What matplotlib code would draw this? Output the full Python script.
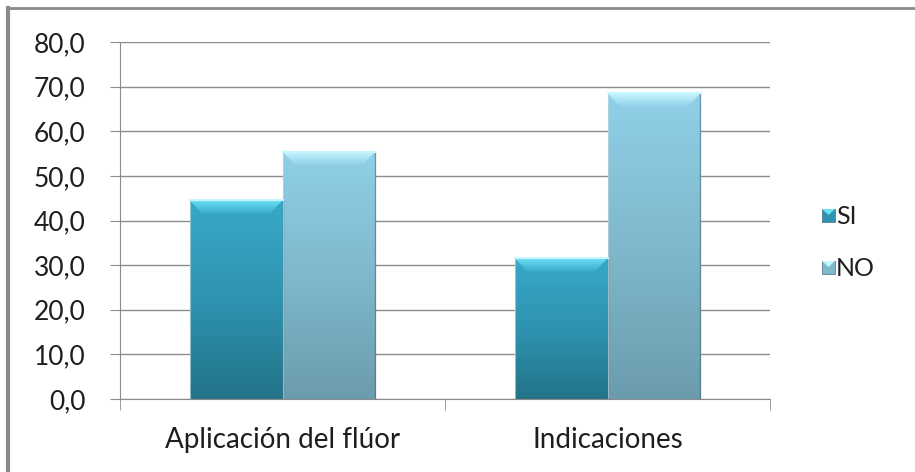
import numpy as np
import matplotlib
matplotlib.use('Agg')
import matplotlib.pyplot as plt
from matplotlib.patches import Polygon, Rectangle
from matplotlib.colors import LinearSegmentedColormap
from matplotlib.ticker import FuncFormatter

# data
categories = ['Aplicación del flúor', 'Indicaciones']
series_names = ['SI', 'NO']
si_values = [44.5, 31.5]
no_values = [55.4, 68.5]
yticks = [0, 10, 20, 30, 40, 50, 60, 70, 80]

plt.rcParams['font.family'] = ['Lato', 'DejaVu Sans']

# colours (top of bar -> bottom of bar)
si_cols = ['#38a9c8', '#2e93b0', '#237488']
no_cols = ['#90d0e8', '#80b8cc', '#6b9cae']
si_bevel = ['#6ee0f8', '#38a9c8']
no_bevel = ['#c8f6ff', '#90d0e8']
txt = '#1e1e1e'

fig = plt.figure(figsize=(9.15, 4.72), dpi=100)
ax = fig.add_axes([120/915, 1-399/472, 650/915, 357/472])

x = np.arange(len(categories))
gap = 1.5
width = 1.0/(len(series_names) + gap)

def grad_patch(ax, patch, x0, x1, y0, y1, cols, z):
    cmap = LinearSegmentedColormap.from_list('g', cols[::-1])
    grad = np.linspace(0, 1, 256).reshape(-1, 1)
    patch.set_facecolor('none')
    patch.set_edgecolor('none')
    ax.add_patch(patch)
    im = ax.imshow(grad, extent=[x0, x1, y0, y1], origin='lower',
                   cmap=cmap, aspect='auto', zorder=z, interpolation='bilinear')
    im.set_clip_path(patch)

def draw_bar(ax, xc, h, w, cols, bevel):
    rect = Rectangle((xc - w/2, 0), w, h)
    grad_patch(ax, rect, xc - w/2, xc + w/2, 0, h, cols, 2)
    ax.plot([xc + w/2, xc + w/2], [0, h], color='#3d5f6a', lw=1.0, zorder=3, alpha=0.5)
    ax.plot([xc - w/2, xc - w/2], [0, h], color='#b8d4dc', lw=0.8, zorder=3, alpha=0.7)
    # top bevel
    bh = 3.0
    bw = w*0.14
    top = Polygon([[xc - w/2, h], [xc + w/2, h], [xc + w/2 - bw, h - bh], [xc - w/2 + bw, h - bh]],
                  closed=True)
    grad_patch(ax, top, xc - w/2, xc + w/2, h - bh, h, bevel, 3)
    ax.plot([xc - w/2, xc + w/2], [h, h], color='#c8f6ff', lw=1.5, zorder=4)

for i in range(len(categories)):
    draw_bar(ax, x[i] - width/2, si_values[i], width, si_cols, si_bevel)
    draw_bar(ax, x[i] + width/2, no_values[i], width, no_cols, no_bevel)

ax.set_xlim(-0.5, len(categories) - 0.5)
ax.set_ylim(0, 80)
ax.set_yticks(yticks)
ax.yaxis.set_major_formatter(FuncFormatter(lambda v, p: ('%.1f' % v).replace('.', ',')))
ax.grid(axis='y', color='#8c8c8c', lw=1.0, zorder=0)
ax.set_axisbelow(True)
for s in ['top', 'right']:
    ax.spines[s].set_visible(False)
ax.spines['left'].set_color('#8c8c8c')
ax.spines['bottom'].set_color('#8c8c8c')
ax.tick_params(axis='y', length=7, color='#8c8c8c', labelsize=19, pad=18, labelcolor=txt)
ax.set_xticks(x)
ax.set_xticklabels(categories, fontsize=20, color=txt)
ax.tick_params(axis='x', length=0, pad=20)
# category separators
ax.set_xticks(np.arange(-0.5, len(categories)), minor=True)
ax.tick_params(axis='x', which='minor', length=8, color='#8c8c8c')

# legend
leg_ax = fig.add_axes([0, 0, 1, 1], facecolor='none')
leg_ax.set_axis_off()
leg_ax.set_xlim(0, 915)
leg_ax.set_ylim(472, 0)
for j, (name, cols, bev) in enumerate([(series_names[0], si_cols, si_bevel),
                                       (series_names[1], no_cols, no_bevel)]):
    yy = 216 + j*52
    leg_ax.add_patch(Rectangle((822, yy - 7), 13, 13, facecolor=cols[1], edgecolor='#4c6f7a', lw=0.5))
    leg_ax.add_patch(Polygon([[822, yy - 7], [835, yy - 7], [828.5, yy - 1]], facecolor=bev[0],
                             edgecolor='none'))
    leg_ax.text(836, yy, name, fontsize=18, va='center', ha='left', color=txt)

# outer frame
leg_ax.plot([8, 8], [472, 8], color='#8a8a8a', lw=3)
leg_ax.plot([8, 915], [8, 8], color='#8a8a8a', lw=2)

fig.savefig('out.png', dpi=100)
